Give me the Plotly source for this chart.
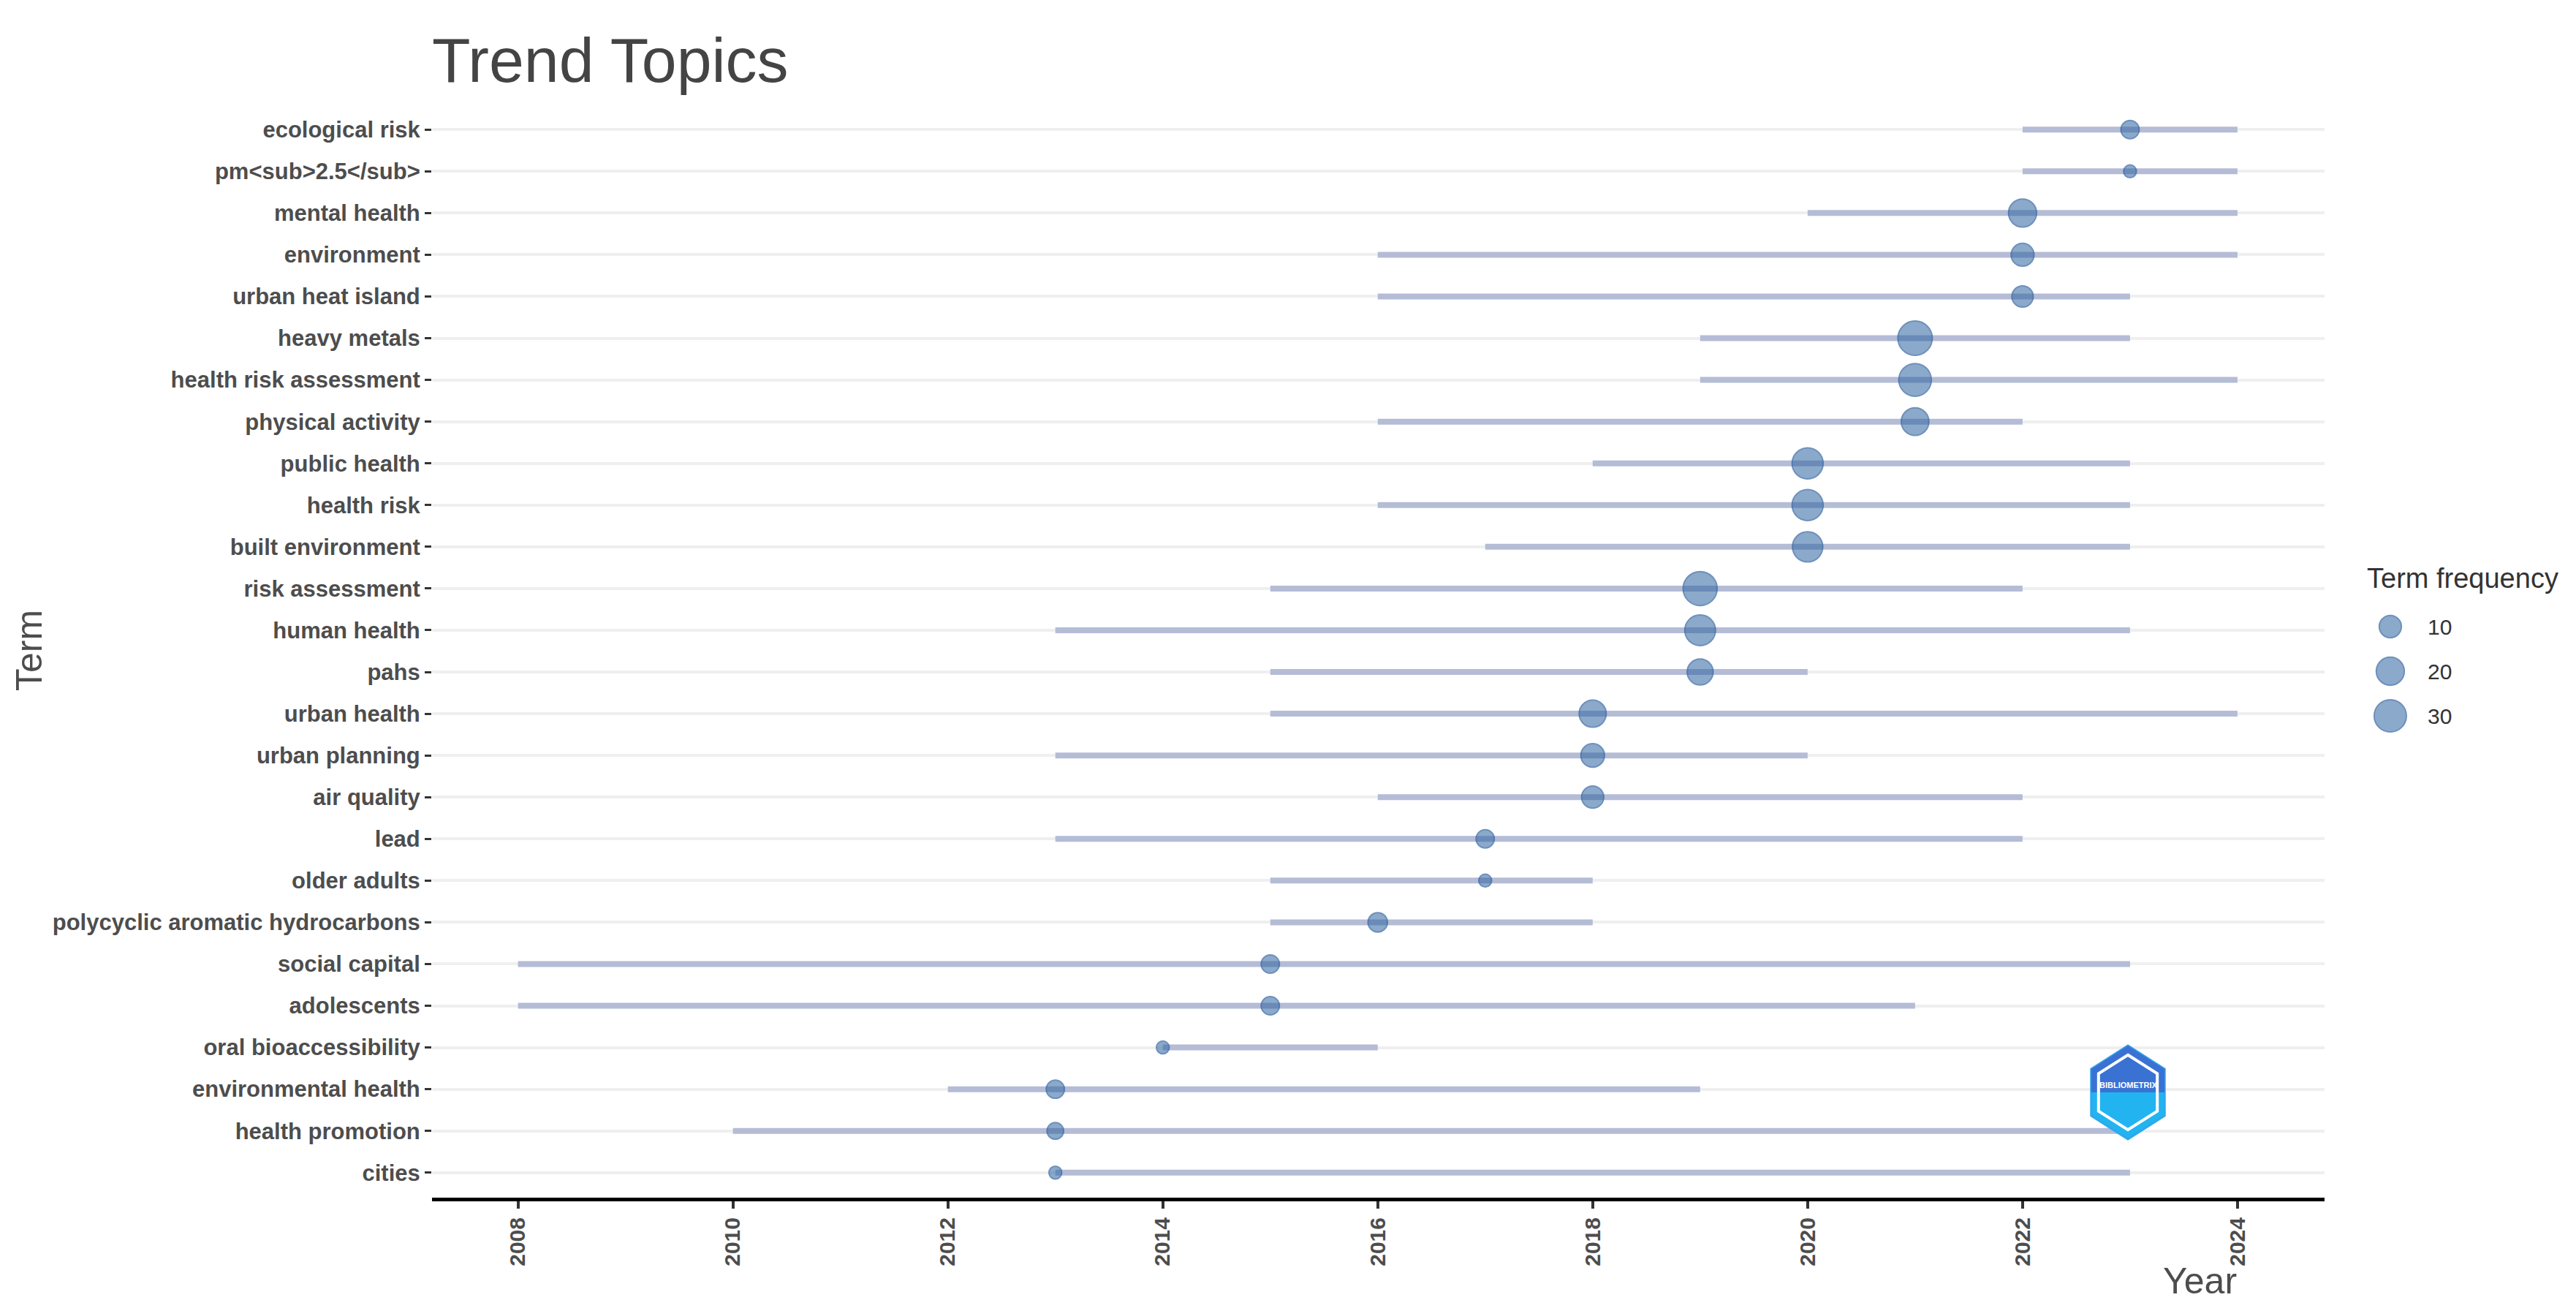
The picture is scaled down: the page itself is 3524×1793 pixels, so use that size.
import math
import plotly.graph_objects as go

# ---------------- data ----------------
terms = [
    "ecological risk", "pm<sub>2.5</sub>", "mental health", "environment",
    "urban heat island", "heavy metals", "health risk assessment",
    "physical activity", "public health", "health risk", "built environment",
    "risk assessment", "human health", "pahs", "urban health",
    "urban planning", "air quality", "lead", "older adults",
    "polycyclic aromatic hydrocarbons", "social capital", "adolescents",
    "oral bioaccessibility", "environmental health", "health promotion", "cities",
]
year_q1 = [2022, 2022, 2020, 2016, 2016, 2019, 2019, 2016, 2018, 2016, 2017,
           2015, 2013, 2015, 2015, 2013, 2016, 2013, 2015, 2015, 2008, 2008,
           2014, 2012, 2010, 2013]
year_med = [2023, 2023, 2022, 2022, 2022, 2021, 2021, 2021, 2020, 2020, 2020,
            2019, 2019, 2019, 2018, 2018, 2018, 2017, 2017, 2016, 2015, 2015,
            2014, 2013, 2013, 2013]
year_q3 = [2024, 2024, 2024, 2024, 2023, 2023, 2024, 2022, 2023, 2023, 2023,
           2022, 2023, 2020, 2024, 2020, 2022, 2022, 2018, 2018, 2023, 2021,
           2016, 2019, 2023, 2023]
freq = [6, 4, 20, 11, 9, 36, 31, 19, 27, 27, 25,
        35, 26, 16, 18, 12, 10, 6, 4, 7, 6, 6,
        4, 6, 5, 4]
legend_values = [10, 20, 30]
x_ticks = [2008, 2010, 2012, 2014, 2016, 2018, 2020, 2022, 2024]

# display labels (the reference shows the raw html tags as text)
term_labels = [t.replace("<", "&lt;").replace(">", "&gt;") for t in terms]

# ---------------- styling ----------------
W, H = 3524, 1793
OFF = 8                      # page body margin of the html page
PLOT_L, PLOT_R = 591, 3180   # screen px of plot panel
PLOT_T, PLOT_B = 143, 1638
ML = PLOT_L - OFF
MT = PLOT_T - OFF
MR = 10
MB = H - (PLOT_B - OFF)
PW = W - ML - MR
PH = H - MT - MB

def px_x(p):
    return (p - OFF - ML) / PW

def px_y(p):
    return (H - MB - (p - OFF)) / PH

FONT = "Liberation Sans, Arial, Helvetica, sans-serif"
GREY_TXT = "#4d4d4d"
SEG_COL = "#b4bcd6"
DOT_FILL = "rgba(45,100,160,0.78)"
DOT_LINE = "rgba(40,90,155,0.92)"

SIZE_MIN, SIZE_MAX = 17.5, 47.0
fmin, fmax = min(freq), max(freq)

def size_px(v):
    t = max(0.0, (v - fmin) / (fmax - fmin))
    return SIZE_MIN + (SIZE_MAX - SIZE_MIN) * math.sqrt(t)

fig = go.Figure()

# segments (q1 -> q3)
seg_x, seg_y = [], []
for lab, a, b in zip(term_labels, year_q1, year_q3):
    seg_x += [a, b, None]
    seg_y += [lab, lab, None]
fig.add_trace(go.Scatter(
    x=seg_x, y=seg_y, mode="lines",
    line=dict(color=SEG_COL, width=8),
    hoverinfo="skip", showlegend=False,
))

# points at median year, sized by frequency
fig.add_trace(go.Scatter(
    x=year_med, y=term_labels, mode="markers",
    marker=dict(size=[size_px(v) for v in freq], color=DOT_FILL,
                line=dict(color=DOT_LINE, width=2)),
    text=[str(v) for v in freq], hovertemplate="%{y}: %{text}<extra></extra>",
    showlegend=False,
))

# size legend drawn on its own small axes
fig.add_trace(go.Scatter(
    x=[0.148] * len(legend_values), y=[str(v) for v in legend_values],
    mode="markers", xaxis="x2", yaxis="y2",
    marker=dict(size=[size_px(v) for v in legend_values], color=DOT_FILL,
                line=dict(color=DOT_LINE, width=2)),
    hoverinfo="skip", showlegend=False,
))

n = len(terms)
main_right = px_x(PLOT_R)

fig.update_layout(
    width=W, height=H,
    margin=dict(l=ML, r=MR, t=MT, b=MB, autoexpand=False),
    paper_bgcolor="white", plot_bgcolor="white",
    font=dict(family=FONT, color=GREY_TXT),
    title=dict(text="Trend Topics", x=0, xref="paper", xanchor="left",
               y=1 - (82 - OFF) / H, yanchor="middle",
               font=dict(size=86, color="#444444", family=FONT)),
    xaxis=dict(
        domain=[0, main_right], range=[2007.2, 2024.81],
        tickvals=x_ticks, ticktext=[str(t) for t in x_ticks],
        tickangle=-90, ticks="outside", ticklen=10, tickwidth=4,
        tickcolor="#333333",
        tickfont=dict(size=30, family=FONT, color=GREY_TXT, weight="bold"),
        showgrid=False, zeroline=False,
        showline=True, linecolor="black", linewidth=5,
    ),
    yaxis=dict(
        type="category", categoryorder="array", categoryarray=term_labels,
        range=[n - 1 + 0.6, -0.6],
        ticks="outside", ticklen=9, tickwidth=3, tickcolor="#333333",
        tickfont=dict(size=31, family=FONT, color=GREY_TXT, weight="bold"),
        showgrid=True, gridcolor="#efefef", gridwidth=4,
        zeroline=False, showline=False,
    ),
    xaxis2=dict(domain=[px_x(3230), px_x(3500)], range=[0, 1], anchor="y2",
                visible=False, fixedrange=True),
    yaxis2=dict(domain=[px_y(1009.5), px_y(826.5)], type="category",
                categoryorder="array",
                categoryarray=[str(v) for v in legend_values],
                range=[2.5, -0.5], anchor="x2", visible=False, fixedrange=True),
)

annotations = [
    dict(text="Term", xref="paper", yref="paper", x=px_x(40), y=px_y(890),
         xanchor="center", yanchor="middle", textangle=-90, showarrow=False,
         font=dict(size=50, family=FONT, color=GREY_TXT)),
    dict(text="Year", xref="paper", yref="paper", x=px_x(3009), y=px_y(1752),
         xanchor="center", yanchor="middle", showarrow=False,
         font=dict(size=50, family=FONT, color=GREY_TXT)),
    dict(text="Term frequency", xref="paper", yref="paper", x=px_x(3236),
         y=px_y(791), xanchor="left", yanchor="middle", showarrow=False,
         font=dict(size=38, family=FONT, color="#333333")),
]
for i, v in enumerate(legend_values):
    annotations.append(dict(
        text=str(v), xref="x2", yref="y2", x=0.33, y=i,
        xanchor="left", yanchor="middle", showarrow=False,
        font=dict(size=30, family=FONT, color="#333333")))

# bibliometrix-like logo (decorative)
cx, cy, rx, ry = 2911, 1494, 58, 64

def hexagon(scale):
    pts = []
    for ang in [90, 30, -30, -90, -150, 150]:
        a = math.radians(ang)
        pts.append((cx + scale * rx * math.cos(a), cy - scale * ry * math.sin(a)))
    return pts

def path_of(pts):
    return "M " + " L ".join(f"{px_x(x):.5f},{px_y(y):.5f}" for x, y in pts) + " Z"

outer = hexagon(1.0)
inner = hexagon(0.8)
upper = [outer[5], outer[0], outer[1], (outer[1][0], cy), (outer[5][0], cy)]
shapes = [
    dict(type="path", xref="paper", yref="paper", path=path_of(outer),
         fillcolor="#22b4f0", line=dict(color="#2fa8ec", width=3), layer="above"),
    dict(type="path", xref="paper", yref="paper", path=path_of(upper),
         fillcolor="#3a72d4", line=dict(width=0), layer="above"),
    dict(type="path", xref="paper", yref="paper", path=path_of(inner),
         fillcolor="rgba(0,0,0,0)", line=dict(color="white", width=4),
         layer="above"),
]
annotations.append(dict(
    text="<b>BIBLIOMETRIX</b>", xref="paper", yref="paper", x=px_x(cx),
    y=px_y(cy - 10), xanchor="center", yanchor="middle", showarrow=False,
    font=dict(size=11, family=FONT, color="white")))

fig.update_layout(annotations=annotations, shapes=shapes)

fig.write_html("out.html")
